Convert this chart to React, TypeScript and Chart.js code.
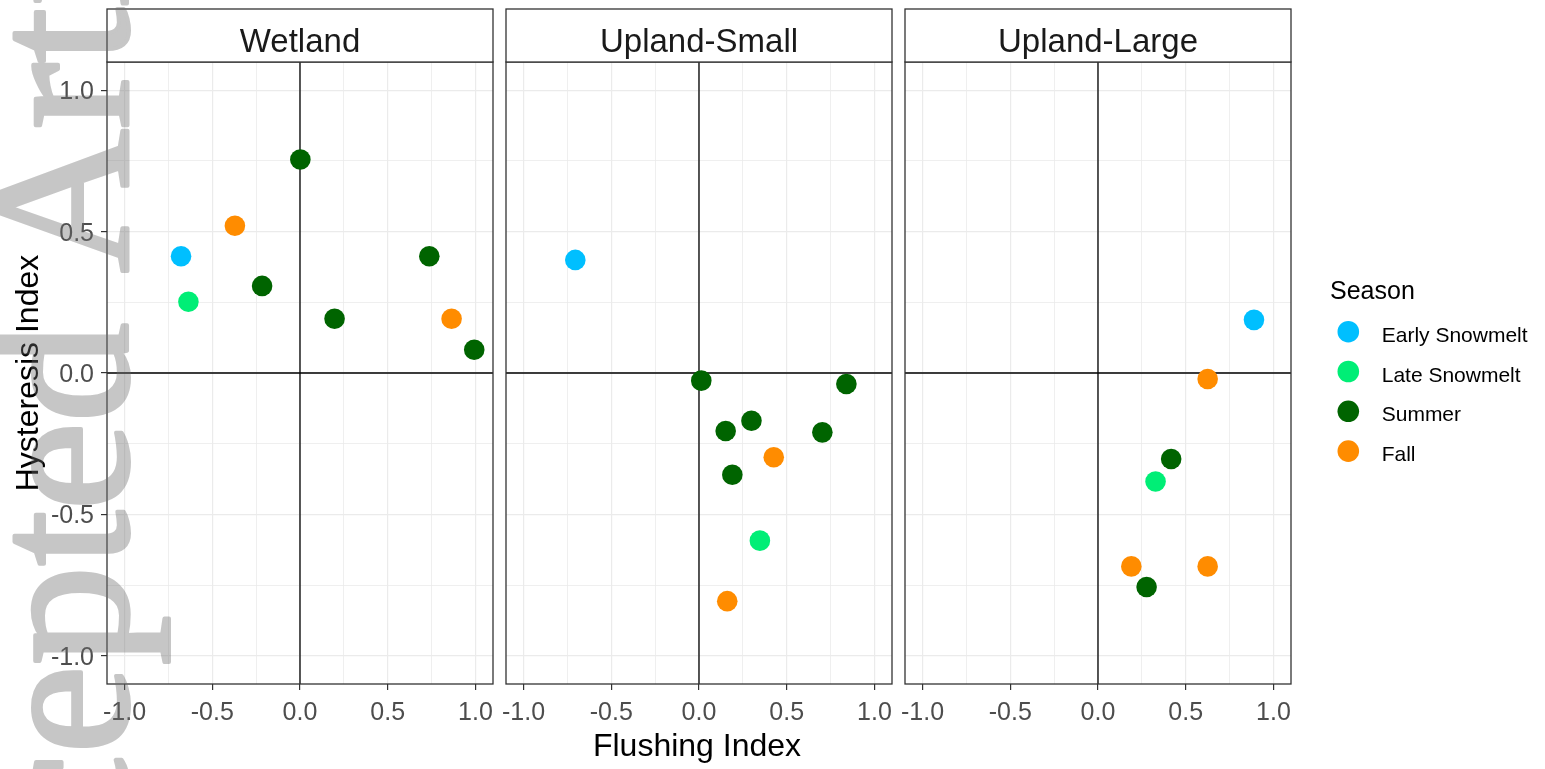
import { useEffect, useRef } from "react";
import { Chart, registerables } from "chart.js";

Chart.register(...registerables);

// ---------------- data ----------------
const seasons = ["Early Snowmelt", "Late Snowmelt", "Summer", "Fall"];
const seasonColors = ["#00BFFF", "#00EE76", "#006400", "#FF8C00"];
const panelTitles = ["Wetland", "Upland-Small", "Upland-Large"];

// season index: 0 Early Snowmelt, 1 Late Snowmelt, 2 Summer, 3 Fall
const wetlandFlushing = [-0.678, -0.636, -0.371, -0.216, 0.002, 0.197, 0.737, 0.864, 0.993];
const wetlandHysteresis = [0.413, 0.252, 0.521, 0.308, 0.755, 0.192, 0.413, 0.192, 0.082];
const wetlandSeason = [0, 1, 3, 2, 2, 2, 2, 3, 2];

const uplandSmallFlushing = [-0.705, 0.013, 0.84, 0.299, 0.152, 0.703, 0.426, 0.19, 0.347, 0.161];
const uplandSmallHysteresis = [0.4, -0.027, -0.039, -0.169, -0.205, -0.21, -0.298, -0.36, -0.593, -0.807];
const uplandSmallSeason = [0, 2, 2, 2, 2, 2, 3, 2, 1, 3];

const uplandLargeFlushing = [0.889, 0.625, 0.417, 0.328, 0.19, 0.625, 0.277];
const uplandLargeHysteresis = [0.188, -0.021, -0.304, -0.384, -0.684, -0.684, -0.757];
const uplandLargeSeason = [0, 3, 2, 1, 3, 3, 2];

const gridValues = [-1, -0.75, -0.5, -0.25, 0, 0.25, 0.5, 0.75, 1];
const majorValues = [-1, -0.5, 0, 0.5, 1];
const tickLabels = ["-1.0", "-0.5", "0.0", "0.5", "1.0"];

const xTitle = "Flushing Index";
const yTitle = "Hysteresis Index";
const legendTitle = "Season";
const watermarkText = "Accepted Article";

// ---------------- layout ----------------
const W = 1545;
const H = 769;
const PANEL_LEFT = [107, 506, 905];
const PANEL_W = 386;
const PLOT_TOP = 62;
const PLOT_BOTTOM = 684;
const STRIP_TOP = 9;
const FONT = "'Liberation Sans', Arial, sans-serif";

const panelData = [
  { x: wetlandFlushing, y: wetlandHysteresis, s: wetlandSeason },
  { x: uplandSmallFlushing, y: uplandSmallHysteresis, s: uplandSmallSeason },
  { x: uplandLargeFlushing, y: uplandLargeHysteresis, s: uplandLargeSeason },
];

const isMajor = (v: number) => majorValues.some((m) => Math.abs(m - v) < 1e-9);
const labelFor = (v: number) => {
  const idx = majorValues.findIndex((m) => Math.abs(m - v) < 1e-9);
  return idx >= 0 ? tickLabels[idx] : "";
};

function drawWatermark(ctx: CanvasRenderingContext2D) {
  const off = document.createElement("canvas");
  off.width = W;
  off.height = H;
  const o = off.getContext("2d") as CanvasRenderingContext2D;
  o.fillStyle = "#6E6E6E";
  o.strokeStyle = "#6E6E6E";
  o.lineWidth = 4;
  o.lineJoin = "round";
  o.font = `199px 'Liberation Serif', 'Times New Roman', serif`;
  o.textAlign = "left";
  o.textBaseline = "alphabetic";
  o.translate(127, 1074);
  o.rotate(-Math.PI / 2);
  o.fillText(watermarkText, 0, 0);
  o.strokeText(watermarkText, 0, 0);
  ctx.save();
  ctx.globalAlpha = 0.39;
  ctx.drawImage(off, 0, 0);
  ctx.restore();
}

function makeConfig(i: number): any {
  const p = panelData[i];
  const datasets = seasons.map((s, k) => ({
    label: s,
    data: p.x
      .map((x, j) => ({ x, y: p.y[j], k: p.s[j] }))
      .filter((d) => d.k === k)
      .map((d) => ({ x: d.x, y: d.y })),
    backgroundColor: seasonColors[k],
    borderColor: seasonColors[k],
    borderWidth: 0,
    pointRadius: 10.3,
    pointHoverRadius: 10.3,
  }));

  const gridOpts = {
    color: "#EBEBEB",
    lineWidth: (ctx: any) => (ctx.tick && isMajor(ctx.tick.value) ? 1.2 : 0.8),
    tickColor: (ctx: any) => (ctx.tick && isMajor(ctx.tick.value) ? "#333333" : "rgba(0,0,0,0)"),
    tickLength: 6,
    tickWidth: 1.2,
  };

  const decor = {
    id: "panelDecor" + i,
    beforeDatasetsDraw(chart: any) {
      const { ctx, chartArea: a, scales } = chart;
      const x0 = scales.x.getPixelForValue(0);
      const y0 = scales.y.getPixelForValue(0);
      ctx.save();
      ctx.strokeStyle = "#000000";
      ctx.lineWidth = 1.3;
      ctx.beginPath();
      ctx.moveTo(x0, a.top);
      ctx.lineTo(x0, a.bottom);
      ctx.moveTo(a.left, y0);
      ctx.lineTo(a.right, y0);
      ctx.stroke();
      ctx.restore();
    },
    afterDraw(chart: any) {
      const { ctx, chartArea: a } = chart;
      ctx.save();
      // panel border
      ctx.strokeStyle = "#333333";
      ctx.lineWidth = 1.3;
      ctx.strokeRect(a.left, a.top, a.right - a.left, a.bottom - a.top);
      // strip
      ctx.fillStyle = "#FFFFFF";
      ctx.fillRect(a.left, STRIP_TOP, a.right - a.left, a.top - STRIP_TOP);
      ctx.strokeRect(a.left, STRIP_TOP, a.right - a.left, a.top - STRIP_TOP);
      ctx.fillStyle = "#1A1A1A";
      ctx.font = `33px ${FONT}`;
      ctx.textAlign = "center";
      ctx.textBaseline = "alphabetic";
      ctx.fillText(panelTitles[i], (a.left + a.right) / 2, 51.5);

      if (i === 0) {
        // axis titles
        ctx.fillStyle = "#000000";
        ctx.font = `32px ${FONT}`;
        ctx.textAlign = "center";
        ctx.fillText(xTitle, 697, 756);
        ctx.save();
        ctx.translate(37.5, (a.top + a.bottom) / 2);
        ctx.rotate(-Math.PI / 2);
        ctx.fillText(yTitle, 0, 0);
        ctx.restore();

        // legend
        ctx.textAlign = "left";
        ctx.font = `25px ${FONT}`;
        ctx.fillStyle = "#000000";
        ctx.fillText(legendTitle, 1330, 299);
        ctx.font = `21px ${FONT}`;
        chart.data.datasets.forEach((ds: any, k: number) => {
          const cy = 331.7 + k * 39.8;
          ctx.beginPath();
          ctx.fillStyle = ds.backgroundColor;
          ctx.arc(1348.3, cy, 10.8, 0, Math.PI * 2);
          ctx.fill();
          ctx.fillStyle = "#000000";
          ctx.fillText(ds.label, 1381.7, cy + 10);
        });

        // watermark
        drawWatermark(ctx);
      }
      ctx.restore();
    },
  };

  return {
    type: "scatter",
    data: { datasets },
    options: {
      responsive: false,
      maintainAspectRatio: false,
      animation: false,
      devicePixelRatio: 1,
      events: [],
      layout: {
        padding: {
          left: i === 0 ? 0 : PANEL_LEFT[i],
          right: W - (PANEL_LEFT[i] + PANEL_W),
          top: PLOT_TOP,
          bottom: 0,
        },
      },
      plugins: { legend: { display: false }, tooltip: { enabled: false }, title: { display: false } },
      scales: {
        x: {
          type: "linear",
          position: "bottom",
          min: -1.1,
          max: 1.1,
          afterBuildTicks: (s: any) => {
            s.ticks = gridValues.map((v) => ({ value: v }));
          },
          afterFit: (s: any) => {
            s.height = H - PLOT_BOTTOM;
          },
          grid: gridOpts,
          border: { display: false },
          ticks: {
            callback: (v: any) => labelFor(Number(v)),
            color: "#4D4D4D",
            font: { size: 25, family: FONT },
            padding: 8,
            autoSkip: false,
            maxRotation: 0,
            minRotation: 0,
          },
        },
        y: {
          type: "linear",
          position: "left",
          min: -1.1,
          max: 1.1,
          afterBuildTicks: (s: any) => {
            s.ticks = gridValues.map((v) => ({ value: v }));
          },
          afterFit: (s: any) => {
            s.width = i === 0 ? PANEL_LEFT[0] : 0;
          },
          grid: { ...gridOpts, drawTicks: i === 0 },
          border: { display: false },
          ticks: {
            display: i === 0,
            callback: (v: any) => labelFor(Number(v)),
            color: "#4D4D4D",
            font: { size: 25, family: FONT },
            padding: 7,
            labelOffset: 2,
            autoSkip: false,
          },
        },
      },
    },
    plugins: [decor],
  };
}

export default function App() {
  const r0 = useRef<HTMLCanvasElement>(null);
  const r1 = useRef<HTMLCanvasElement>(null);
  const r2 = useRef<HTMLCanvasElement>(null);

  useEffect(() => {
    const refs = [r0, r1, r2];
    const charts = refs.map((r, i) => new Chart(r.current as HTMLCanvasElement, makeConfig(i)));
    return () => charts.forEach((c) => c.destroy());
  }, []);

  const cs: any = { position: "absolute", left: 0, top: 0 };
  return (
    <div style={{ position: "absolute", left: 0, top: 0, width: W, height: H, background: "#FFFFFF", overflow: "hidden" }}>
      <canvas ref={r0} width={W} height={H} style={cs} />
      <canvas ref={r1} width={W} height={H} style={cs} />
      <canvas ref={r2} width={W} height={H} style={cs} />
    </div>
  );
}
